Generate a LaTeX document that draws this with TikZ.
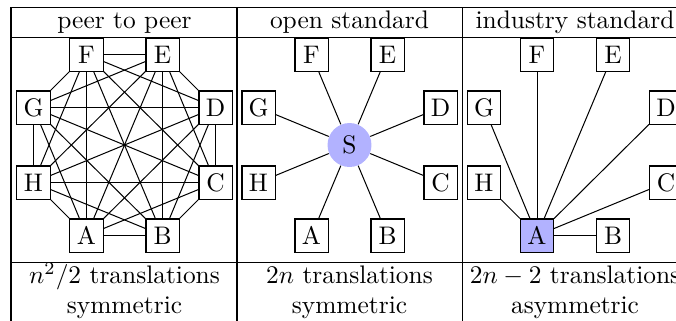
\documentclass[tikz,border=0pt]{standalone}
\begin{document}
\begin{tikzpicture}[x=0.3937pt,y=-0.3937pt,
  peer/.style={draw,minimum size=13pt,inner sep=0pt},
  hub/.style={circle,fill=blue!30,minimum size=17.3pt,inner sep=0pt},
  lead/.style={peer,fill=blue!30},
  label/.style={anchor=base,inner sep=0pt}]
\useasboundingbox (0,0) rectangle (676,320);

% table rules
\draw (11,7) -- (700,7);
\draw (11,37.5) -- (700,37.5);
\draw (11,262.3) -- (700,262.3);
\foreach \cx in {11,237,462} \draw (\cx,7) -- (\cx,330);

% header row
\node[label] (h1) at (124.5,28.5) {peer to peer};
\node[label] (h2) at (349.5,28.5) {open standard};
\node[label] (h3) at (575,28.5) {industry standard};

% footer rows
\node[label] (f1) at (124.5,283.3) {$n^2/2$ translations};
\node[label] (g1) at (124.5,313.8) {symmetric};
\node[label] (f2) at (349.5,283.3) {$2n$ translations};
\node[label] (g2) at (349.5,313.8) {symmetric};
\node[label] (f3) at (575,283.3) {$2n-2$ translations};
\node[label] (g3) at (575,313.8) {asymmetric};

% peer to peer: complete graph
\begin{scope}[shift={(124.5,145)}]
  \foreach \n/\dx/\dy in {A/-38/90.5, B/38/90.5, C/91/37.5, D/91/-37.5,
                          E/38/-90.5, F/-38/-90.5, G/-91/-37.5, H/-91/37.5}
    \node[peer] (p\n) at (\dx,\dy) {\n};
\end{scope}
\foreach \a [count=\i] in {A,B,C,D,E,F,G,H}
  \foreach \b [count=\j] in {A,B,C,D,E,F,G,H}
    {\ifnum\j>\i \draw (p\a) -- (p\b); \fi}

% open standard: star around S
\begin{scope}[shift={(349.5,145)}]
  \node[hub] (S) at (0,0) {S};
  \foreach \n/\dx/\dy in {A/-38/90.5, B/38/90.5, C/91/37.5, D/91/-37.5,
                          E/38/-90.5, F/-38/-90.5, G/-91/-37.5, H/-91/37.5}
    \node[peer] (s\n) at (\dx,\dy) {\n};
\end{scope}
\foreach \n in {A,B,C,D,E,F,G,H} \draw (S) -- (s\n);

% industry standard: star around A
\begin{scope}[shift={(575,145)}]
  \foreach \n/\dx/\dy in {B/38/90.5, C/91/37.5, D/91/-37.5,
                          E/38/-90.5, F/-38/-90.5, G/-91/-37.5, H/-91/37.5}
    \node[peer] (i\n) at (\dx,\dy) {\n};
  \node[lead] (iA) at (-38,90.5) {A};
\end{scope}
\foreach \n in {B,C,D,E,F,G,H} \draw (iA) -- (i\n);
\end{tikzpicture}
\end{document}
